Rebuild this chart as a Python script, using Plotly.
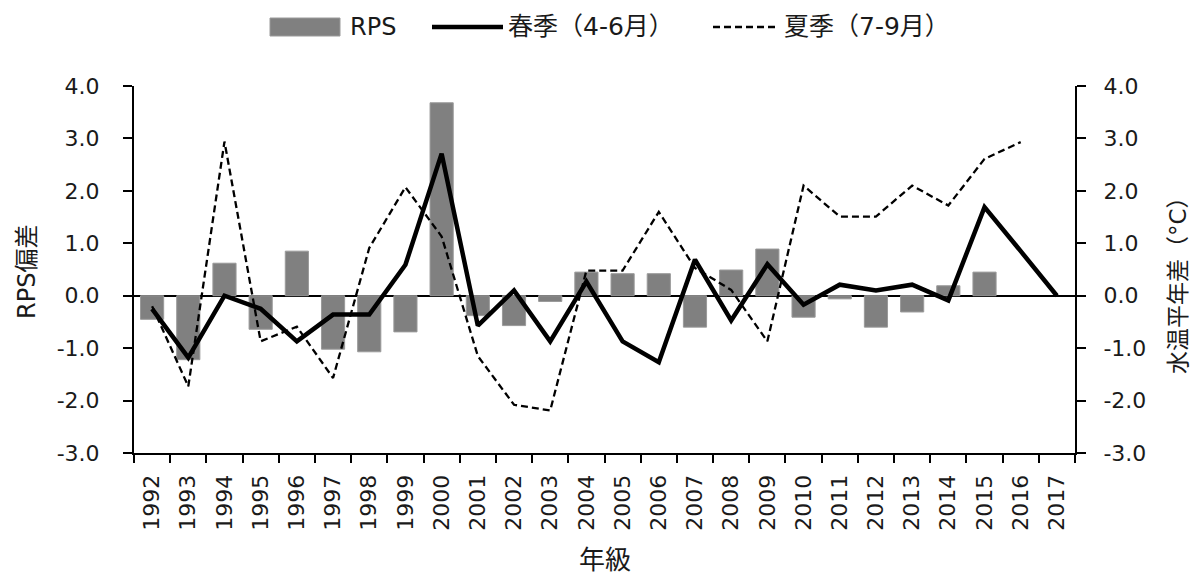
import plotly.graph_objects as go

years = [str(y) for y in range(1992, 2018)]
rps = [-0.45, -1.22, 0.62, -0.64, 0.85, -1.02, -1.07, -0.69, 3.68, -0.38,
       -0.57, -0.11, 0.45, 0.42, 0.42, -0.60, 0.49, 0.89, -0.41, -0.06,
       -0.60, -0.31, 0.19, 0.45, None, None]
spring = [-0.25, -1.18, 0.0, -0.25, -0.87, -0.36, -0.36, 0.59, 2.71, -0.57,
          0.10, -0.87, 0.27, -0.87, -1.27, 0.69, -0.47, 0.60, -0.17, 0.21,
          0.10, 0.21, -0.09, 1.69, 0.85, 0.0]
summer = [-0.20, -1.73, 2.94, -0.87, -0.59, -1.57, 0.91, 2.07, 1.13, -1.15,
          -2.08, -2.19, 0.48, 0.48, 1.60, 0.53, 0.11, -0.87, 2.10, 1.51,
          1.51, 2.10, 1.72, 2.61, 2.93, None]
y_ticks = [-3, -2, -1, 0, 1, 2, 3, 4]
y_ticklabels = [f"{v:.1f}" for v in y_ticks]
names = ["RPS", "春季（4-6月）", "夏季（7-9月）"]

FONT = "DejaVu Sans, Noto Sans CJK JP, sans-serif"
TXT = "#1a1a1a"
BAR_COLOR = "#808080"
DASH = "7px,4px"

# page geometry (the page body adds an 8px offset)
OFF = 8
W, H = 1201 - OFF, 574 - OFF
PL, PR, PT, PB = 134, 1075, 86, 453  # plot area in page pixels


def px(x):
    return (x - PL) / (PR - PL)


def py(y):
    return (PB - y) / (PB - PT)


fig = go.Figure()
fig.add_trace(go.Bar(x=years, y=rps, name=names[0], showlegend=False,
                     marker=dict(color=BAR_COLOR, line=dict(color="#9a9a9a", width=1)),
                     width=0.64, yaxis="y"))
fig.add_trace(go.Scatter(x=years, y=spring, name=names[1], mode="lines", showlegend=False,
                         line=dict(color="black", width=4.5), yaxis="y2"))
fig.add_trace(go.Scatter(x=years, y=summer, name=names[2], mode="lines", showlegend=False,
                         line=dict(color="black", width=2.3, dash=DASH), yaxis="y2"))

axis_common = dict(range=[-3, 4], tickvals=y_ticks, ticktext=y_ticklabels,
                   ticks="outside", ticklen=9, tickwidth=2, tickcolor="black",
                   showline=True, linecolor="black", linewidth=2, showgrid=False,
                   automargin=False,
                   tickfont=dict(size=22, color=TXT, family=FONT))

shapes = [
    # legend symbols
    dict(type="rect", xref="paper", yref="paper", x0=px(270), x1=px(340), y0=py(18), y1=py(36),
         fillcolor=BAR_COLOR, line=dict(color="#9a9a9a", width=1)),
    dict(type="line", xref="paper", yref="paper", x0=px(432), x1=px(503), y0=py(27), y1=py(27),
         line=dict(color="black", width=4.5)),
    dict(type="line", xref="paper", yref="paper", x0=px(713), x1=px(778), y0=py(27), y1=py(27),
         line=dict(color="black", width=2.3, dash=DASH)),
]

annotations = [
    dict(text=names[0], xref="paper", yref="paper", x=px(348), y=py(27), xanchor="left",
         yanchor="middle", showarrow=False, font=dict(size=24, color=TXT)),
    dict(text=names[1], xref="paper", yref="paper", x=px(506), y=py(27), xanchor="left",
         yanchor="middle", showarrow=False, font=dict(size=25, color=TXT)),
    dict(text=names[2], xref="paper", yref="paper", x=px(782), y=py(27), xanchor="left",
         yanchor="middle", showarrow=False, font=dict(size=25, color=TXT)),
    # axis titles
    dict(text="RPS偏差", xref="paper", yref="paper", x=px(27), y=py(272), textangle=-90,
         xanchor="center", yanchor="middle", showarrow=False, font=dict(size=24, color=TXT)),
    dict(text="水温平年差（°C）", xref="paper", yref="paper", x=px(1178), y=py(280), textangle=-90,
         xanchor="center", yanchor="middle", showarrow=False, font=dict(size=23, color=TXT)),
    dict(text="年級", xref="paper", yref="paper", x=px(605), y=py(560),
         xanchor="center", yanchor="middle", showarrow=False, font=dict(size=26, color=TXT)),
]

fig.update_layout(
    width=W, height=H,
    margin=dict(l=PL - OFF, r=W - (PR - OFF), t=PT - OFF, b=H - (PB - OFF), autoexpand=False),
    plot_bgcolor="white", paper_bgcolor="white",
    font=dict(family=FONT, size=22, color=TXT),
    showlegend=False,
    xaxis=dict(type="category", tickson="boundaries", ticks="outside", ticklen=8, tickwidth=2,
               tickcolor="black", tickangle=-90, showline=True, linecolor="black", linewidth=2,
               showgrid=False, automargin=False, ticklabelstandoff=11,
               tickfont=dict(size=22, color=TXT)),
    yaxis=dict(**axis_common, zeroline=True, zerolinecolor="black", zerolinewidth=2,
               ticklabelstandoff=19),
    yaxis2=dict(**axis_common, overlaying="y", side="right", zeroline=False,
                ticklabelstandoff=13),
    bargap=0.36,
    shapes=shapes,
    annotations=annotations,
)

fig.write_html("out.html")
